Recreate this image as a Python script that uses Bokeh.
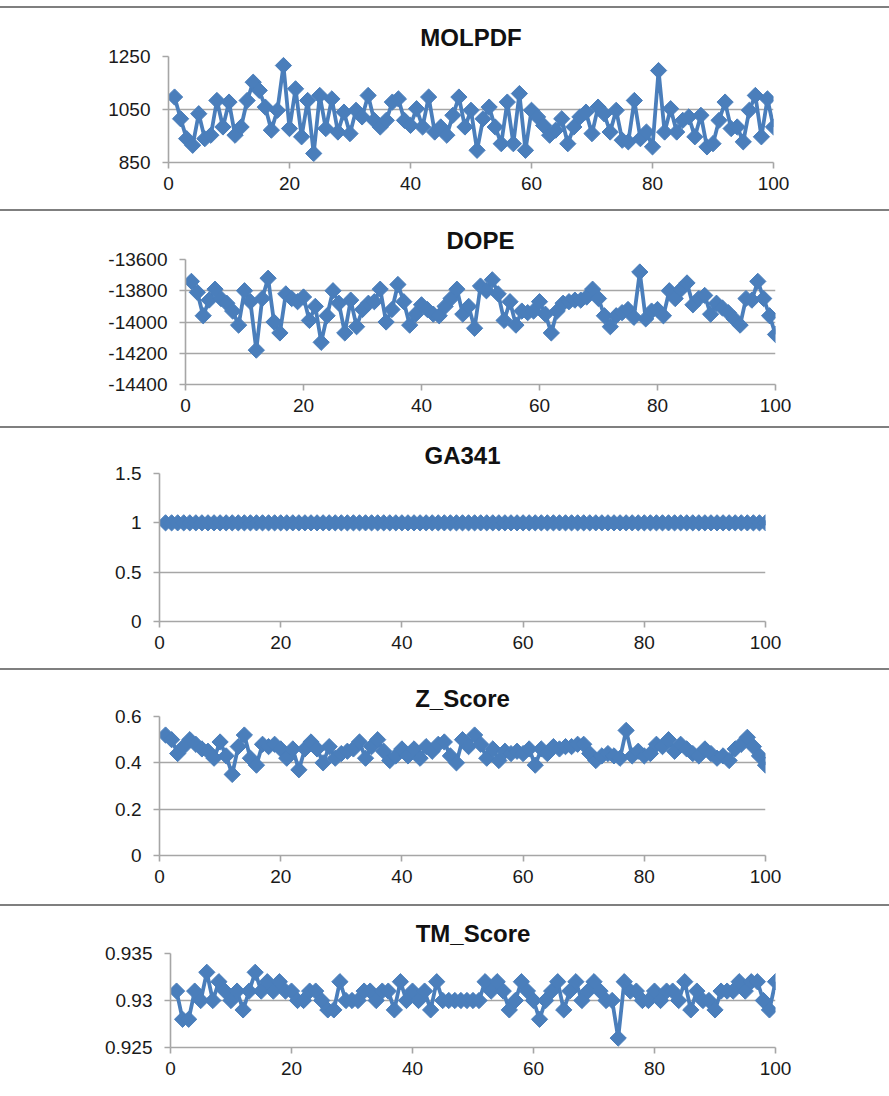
import numpy as np
from bokeh.plotting import figure
from bokeh.models import Range1d, FixedTicker, Div
from bokeh.embed import file_html
from bokeh.resources import INLINE

# Model number (1..100) shared by every panel
model_index = list(range(1, 101))

molpdf = [
    1097, 1015, 940, 915, 1034, 940, 953, 1084, 984, 1078,
    953, 984, 1084, 1153, 1122, 1059, 972, 1047, 1216, 978,
    1128, 947, 1084, 884, 1103, 978, 1090, 965, 1040, 959,
    1047, 1022, 1103, 1009, 984, 1009, 1078, 1090, 1009, 990,
    1053, 984, 1097, 965, 984, 953, 1028, 1097, 984, 1047,
    896, 1015, 1059, 984, 921, 1078, 921, 1110, 896, 1047,
    1022, 990, 953, 972, 1015, 921, 984, 1022, 1040, 959,
    1059, 1034, 965, 1047, 934, 928, 1084, 940, 965, 909,
    1197, 965, 1053, 965, 1009, 1022, 947, 1028, 909, 921,
    1009, 1078, 978, 984, 928, 1047, 1103, 947, 1090, 984,
]

dope = [
    -13740, -13810, -13960, -13860, -13790, -13850, -13880, -13930, -14020, -13800,
    -13870, -14180, -13850, -13720, -14000, -14070, -13820, -13850, -13870, -13840,
    -13990, -13900, -14130, -13960, -13800, -13880, -14070, -13860, -14030, -13920,
    -13880, -13870, -13790, -14000, -13920, -13760, -13870, -14020, -13950, -13890,
    -13920, -13950, -13960, -13900, -13850, -13790, -13950, -13900, -14040, -13770,
    -13800, -13730, -13820, -13990, -13870, -14020, -13930, -13940, -13930, -13870,
    -13950, -14070, -13930, -13880, -13870, -13860, -13860, -13840, -13790, -13850,
    -13960, -14030, -13960, -13940, -13920, -13970, -13680, -13980, -13930, -13920,
    -13960, -13800, -13850, -13790, -13750, -13890, -13850, -13830, -13950, -13880,
    -13910, -13940, -13980, -14020, -13850, -13860, -13740, -13850, -13960, -14080,
]

ga341 = [
    1, 1, 1, 1, 1, 1, 1, 1, 1, 1, 1, 1, 1, 1, 1, 1, 1, 1, 1, 1,
    1, 1, 1, 1, 1, 1, 1, 1, 1, 1, 1, 1, 1, 1, 1, 1, 1, 1, 1, 1,
    1, 1, 1, 1, 1, 1, 1, 1, 1, 1, 1, 1, 1, 1, 1, 1, 1, 1, 1, 1,
    1, 1, 1, 1, 1, 1, 1, 1, 1, 1, 1, 1, 1, 1, 1, 1, 1, 1, 1, 1,
    1, 1, 1, 1, 1, 1, 1, 1, 1, 1, 1, 1, 1, 1, 1, 1, 1, 1, 1, 1,
]

z_score = [
    0.52, 0.50, 0.44, 0.47, 0.50, 0.48, 0.46, 0.45, 0.42, 0.49,
    0.43, 0.35, 0.47, 0.52, 0.42, 0.39, 0.48, 0.47, 0.48, 0.46,
    0.42, 0.46, 0.37, 0.46, 0.49, 0.46, 0.40, 0.47, 0.42, 0.44,
    0.45, 0.46, 0.49, 0.42, 0.47, 0.50, 0.45, 0.41, 0.43, 0.46,
    0.43, 0.46, 0.42, 0.47, 0.45, 0.48, 0.49, 0.43, 0.40, 0.50,
    0.47, 0.52, 0.48, 0.42, 0.46, 0.41, 0.45, 0.44, 0.45, 0.44,
    0.46, 0.39, 0.46, 0.44, 0.47, 0.46, 0.47, 0.47, 0.48, 0.48,
    0.44, 0.41, 0.43, 0.44, 0.43, 0.42, 0.54, 0.43, 0.45, 0.43,
    0.44, 0.48, 0.47, 0.50, 0.45, 0.48, 0.46, 0.44, 0.43, 0.46,
    0.44, 0.42, 0.43, 0.41, 0.46, 0.48, 0.51, 0.47, 0.43, 0.39,
]

tm_score = [
    0.931, 0.928, 0.928, 0.931, 0.930, 0.933, 0.930, 0.932, 0.931, 0.930,
    0.931, 0.929, 0.931, 0.933, 0.931, 0.932, 0.931, 0.932, 0.931, 0.931,
    0.930, 0.930, 0.931, 0.931, 0.930, 0.929, 0.929, 0.932, 0.930, 0.930,
    0.930, 0.931, 0.931, 0.930, 0.931, 0.931, 0.929, 0.932, 0.930, 0.931,
    0.930, 0.931, 0.929, 0.932, 0.930, 0.930, 0.930, 0.930, 0.930, 0.930,
    0.930, 0.932, 0.931, 0.932, 0.931, 0.929, 0.930, 0.932, 0.931, 0.930,
    0.928, 0.930, 0.931, 0.932, 0.929, 0.931, 0.932, 0.930, 0.931, 0.932,
    0.931, 0.930, 0.930, 0.926, 0.932, 0.931, 0.931, 0.930, 0.930, 0.931,
    0.930, 0.931, 0.931, 0.930, 0.932, 0.929, 0.931, 0.930, 0.930, 0.929,
    0.931, 0.931, 0.931, 0.932, 0.931, 0.932, 0.932, 0.930, 0.929, 0.932,
]

x_ticks = [0, 20, 40, 60, 80, 100]

molpdf_ticks = [850, 1050, 1250]
molpdf_labels = ["850", "1050", "1250"]
dope_ticks = [-14400, -14200, -14000, -13800, -13600]
dope_labels = ["-14400", "-14200", "-14000", "-13800", "-13600"]
ga341_ticks = [0, 0.5, 1, 1.5]
ga341_labels = ["0", "0.5", "1", "1.5"]
z_ticks = [0, 0.2, 0.4, 0.6]
z_labels = ["0", "0.2", "0.4", "0.6"]
tm_ticks = [0.925, 0.93, 0.935]
tm_labels = ["0.925", "0.93", "0.935"]

BLUE = "#4a7ebb"
GRID = "#a6a6a6"
RULE = "#7f7f7f"
FONT = "Liberation Sans"
PAGE_W = 889


def panel(title, values, ticks, labels, height, left, right, top, bottom, standoff):
    p = figure(
        width=PAGE_W, height=height,
        x_range=Range1d(0, 100),
        y_range=Range1d(ticks[0], ticks[-1]),
        output_backend="svg", toolbar_location=None,
        min_border_left=left, min_border_right=right,
        min_border_top=top, min_border_bottom=bottom,
        title=title,
    )
    p.outline_line_color = None
    p.background_fill_color = "white"
    p.border_fill_color = "white"

    p.title.align = "center"
    p.title.text_font = FONT
    p.title.text_font_style = "bold"
    p.title.text_font_size = "24px"
    p.title.text_color = "#111111"
    p.title.standoff = standoff

    p.xgrid.visible = False
    p.ygrid.grid_line_color = GRID
    p.ygrid.grid_line_width = 1.6

    p.xaxis.ticker = FixedTicker(ticks=x_ticks)
    p.yaxis.ticker = FixedTicker(ticks=ticks)
    p.yaxis.major_label_overrides = {t: s for t, s in zip(ticks, labels)}

    for ax in (p.xaxis, p.yaxis):
        ax.axis_line_color = GRID
        ax.axis_line_width = 1.6
        ax.major_tick_line_color = GRID
        ax.major_tick_line_width = 1.6
        ax.major_tick_out = 6
        ax.major_tick_in = 0
        ax.minor_tick_line_color = None
        ax.major_label_text_font = FONT
        ax.major_label_text_font_size = "19px"
        ax.major_label_text_color = "#1a1a1a"
    p.xaxis.major_label_standoff = 8
    p.yaxis.major_label_standoff = 12

    p.line(model_index, values, line_color=BLUE, line_width=3.8)
    p.scatter(model_index, values, marker="square", angle=np.pi / 4,
              size=11.5, fill_color=BLUE, line_color=BLUE)
    return p


def rule():
    return Div(text="", width=PAGE_W, height=2, margin=0,
               styles={"background-color": RULE})


p1 = panel("MOLPDF", molpdf, molpdf_ticks, molpdf_labels, 201, 168, 116, 48, 47, 11)
p2 = panel("DOPE", dope, dope_ticks, dope_labels, 215, 185, 114, 48, 42, 12)
p3 = panel("GA341", ga341, ga341_ticks, ga341_labels, 240, 159, 124, 45, 47, 10)
p4 = panel("Z_Score", z_score, z_ticks, z_labels, 234, 159, 124, 46, 49, 9)
p5 = panel("TM_Score", tm_score, tm_ticks, tm_labels, 190, 170, 114, 47, 49, 13)

top_gap = Div(text="", width=PAGE_W, height=6, margin=0)

# Each panel is its own root so that every frame keeps its own left edge
roots = [top_gap, rule(), p1, rule(), p2, rule(), p3, rule(), p4, rule(), p5]

open("out.html", "w").write(file_html(roots, INLINE))
